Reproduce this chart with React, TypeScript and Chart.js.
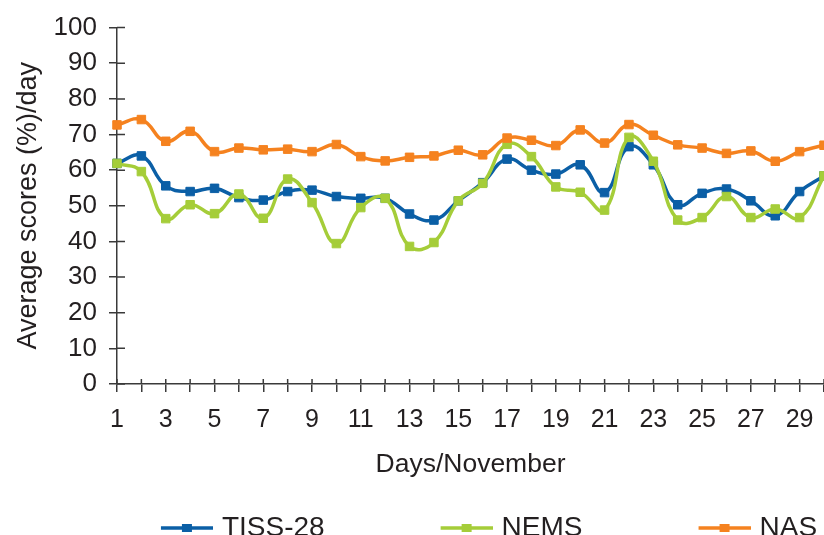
import React, { useEffect, useRef } from 'react';
import { Chart, registerables } from 'chart.js';

Chart.register(...registerables);

// ---- data ----
const days = ['1','2','3','4','5','6','7','8','9','10','11','12','13','14','15','16','17','18','19','20','21','22','23','24','25','26','27','28','29','30'];
const tissValues = [61.9, 64.0, 55.6, 54.0, 54.9, 52.3, 51.6, 54.0, 54.4, 52.6, 52.1, 52.1, 47.7, 46.0, 51.4, 56.5, 63.1, 60.0, 58.9, 61.5, 53.7, 66.6, 61.5, 50.3, 53.5, 54.7, 51.4, 47.2, 54.0, 58.4];
const nemsValues = [61.9, 59.6, 46.4, 50.3, 47.8, 53.3, 46.5, 57.5, 50.9, 39.4, 49.5, 52.1, 38.6, 39.7, 51.4, 56.3, 67.3, 63.8, 55.3, 53.8, 48.8, 69.2, 62.5, 46.0, 46.7, 52.6, 46.7, 49.1, 46.7, 58.4];
const nasValues = [72.7, 74.2, 68.1, 70.9, 65.2, 66.2, 65.7, 65.9, 65.2, 67.2, 63.8, 62.6, 63.6, 64.0, 65.6, 64.3, 69.0, 68.4, 66.9, 71.3, 67.6, 72.8, 69.8, 67.1, 66.2, 64.7, 65.4, 62.5, 65.2, 67.0];
const seriesNames = ['TISS-28', 'NEMS', 'NAS'];
const yTitle = 'Average scores (%)/day';
const xTitle = 'Days/November';

// ---- style ----
const COLORS = ['#0b5fa6', '#a5cd39', '#f5821f'];
const AXIS = '#3a3a3a';
const TEXT = '#231f20';
const FONT = '"Liberation Sans", Arial, Helvetica, sans-serif';
const W = 824;
const H = 535;
const LEGEND_FONT = 28;
const LEGEND_BOX = 153;
const LEGEND_IMG_W = LEGEND_BOX + 10;
const LEGEND_DX = 24;
const LEGEND_DY = 17;

function legendImage(color: string): HTMLCanvasElement {
  const c = document.createElement('canvas');
  c.width = LEGEND_IMG_W;
  c.height = 12;
  const ctx = c.getContext('2d')!;
  ctx.strokeStyle = color;
  ctx.lineWidth = 3.5;
  ctx.beginPath();
  ctx.moveTo(LEGEND_IMG_W - 52, 6);
  ctx.lineTo(LEGEND_IMG_W, 6);
  ctx.stroke();
  ctx.fillStyle = color;
  ctx.fillRect(LEGEND_IMG_W - 26 - 5, 2, 10, 8);
  return c;
}

const innerTicks = {
  id: 'innerTicks',
  beforeDatasetsDraw(chart: any) {
    const { ctx } = chart;
    const x = chart.scales.x;
    const y = chart.scales.y;
    ctx.save();
    ctx.strokeStyle = AXIS;
    ctx.lineWidth = 1.5;
    ctx.beginPath();
    x.ticks.forEach((_t: any, i: number) => {
      const px = x.getPixelForTick(i);
      ctx.moveTo(px, x.top);
      ctx.lineTo(px, x.top - 5);
    });
    y.ticks.forEach((_t: any, i: number) => {
      const py = y.getPixelForTick(i);
      ctx.moveTo(y.right, py);
      ctx.lineTo(y.right + 8, py);
    });
    ctx.stroke();
    ctx.restore();
  },
};

const legendShift = {
  id: 'legendShift',
  afterLayout(chart: any) {
    const l = chart.legend;
    if (!l) return;
    l.left += LEGEND_DX;
    l.right += LEGEND_DX;
    l.top += LEGEND_DY;
    l.bottom += LEGEND_DY;
  },
};

export default function App() {
  const ref = useRef<HTMLCanvasElement | null>(null);

  useEffect(() => {
    if (!ref.current) return;
    const images = COLORS.map(legendImage);
    const values = [tissValues, nemsValues, nasValues];
    const chart = new Chart(ref.current, {
      type: 'line',
      data: {
        labels: days,
        datasets: values.map((v, i) => ({
          label: seriesNames[i],
          data: v,
          borderColor: COLORS[i],
          backgroundColor: COLORS[i],
          borderWidth: 3.5,
          tension: 0.45,
          pointStyle: 'rect',
          pointRadius: 6,
          pointBorderWidth: 1,
          pointBorderColor: COLORS[i],
          pointBackgroundColor: COLORS[i],
          fill: false,
          order: 3 - i,
        })),
      },
      options: {
        animation: false,
        responsive: false,
        devicePixelRatio: 1,
        layout: { autoPadding: false, padding: { top: 27, right: 0, left: 0, bottom: 0 } },
        plugins: {
          tooltip: { enabled: false },
          legend: {
            position: 'bottom',
            labels: {
              usePointStyle: true,
              pointStyleWidth: LEGEND_BOX,
              boxHeight: 12,
              padding: 10,
              color: TEXT,
              font: { family: FONT, size: LEGEND_FONT },
              generateLabels: (ch: any) => {
                const items = (Chart.defaults.plugins.legend.labels as any).generateLabels(ch);
                items.forEach((it: any) => { it.pointStyle = images[it.datasetIndex]; });
                return items.sort((a: any, b: any) => a.datasetIndex - b.datasetIndex);
              },
            },
          },
        },
        scales: {
          x: {
            type: 'category',
            offset: false,
            afterFit: (s: any) => { s.height = 103; s.paddingLeft = 0; s.paddingRight = 0; },
            grid: { drawOnChartArea: false, drawTicks: true, tickLength: 8, color: AXIS, lineWidth: 1.5 },
            border: { display: true, color: AXIS, width: 1.5 },
            ticks: {
              autoSkip: false,
              maxRotation: 0,
              padding: 13,
              color: TEXT,
              font: { family: FONT, size: 25 },
              callback: (_v: any, i: number) => (Number(days[i]) % 2 === 1 ? days[i] : ''),
            },
            title: {
              display: true,
              text: xTitle,
              color: TEXT,
              font: { family: FONT, size: 26.5 },
              padding: { top: 0, bottom: 6 },
            },
          },
          y: {
            min: 0,
            max: 100,
            afterFit: (s: any) => { s.width = 117; },
            grid: { drawOnChartArea: false, drawTicks: true, tickLength: 8, color: AXIS, lineWidth: 1.5 },
            border: { display: true, color: AXIS, width: 1.5 },
            ticks: {
              stepSize: 10,
              padding: 12,
              color: TEXT,
              font: { family: FONT, size: 26 },
            },
            title: {
              display: true,
              text: yTitle,
              color: TEXT,
              font: { family: FONT, size: 27 },
              padding: { top: 12, bottom: 0 },
            },
          },
        },
      },
      plugins: [innerTicks, legendShift],
    } as any);
    return () => chart.destroy();
  }, []);

  return (
    <div style={{ position: 'absolute', left: 0, top: 0, width: W, height: H, overflow: 'hidden', background: '#fff' }}>
      <canvas ref={ref} width={W} height={H} style={{ display: 'block' }} />
    </div>
  );
}
